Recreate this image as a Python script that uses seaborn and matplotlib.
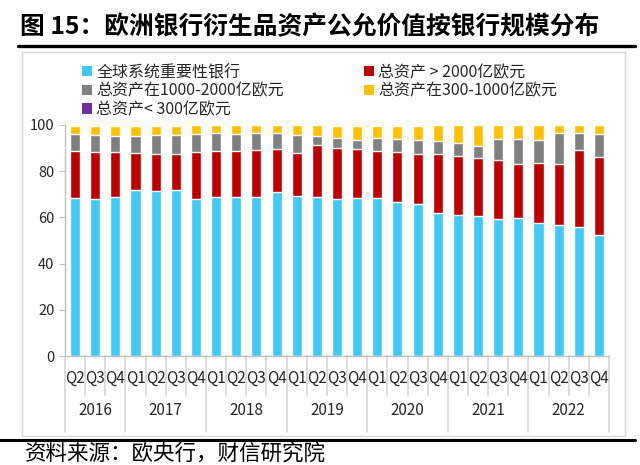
import numpy as np
import pandas as pd
import matplotlib
matplotlib.use('Agg')
import matplotlib.pyplot as plt
import seaborn as sns
from matplotlib.patches import Rectangle, Patch
from matplotlib.lines import Line2D

quarters = ['Q2', 'Q3', 'Q4'] + ['Q1', 'Q2', 'Q3', 'Q4'] * 6
years = ['2016', '2017', '2018', '2019', '2020', '2021', '2022']
year_len = [3, 4, 4, 4, 4, 4, 4]

# share of derivative assets fair value (%)
gsib = [68.5, 67.8, 68.8, 71.8, 71.6, 71.8, 68.0, 68.8, 68.7, 68.8, 71.0, 69.3, 69.0, 67.8,
        68.2, 68.2, 66.5, 65.8, 62.1, 60.9, 60.6, 59.5, 59.9, 57.6, 56.6, 55.9, 52.3]
over_2000 = [20.3, 20.6, 19.6, 16.0, 15.8, 15.6, 20.4, 20.0, 20.1, 20.4, 18.4, 18.5, 22.2, 22.4,
             21.5, 20.7, 21.6, 21.7, 25.4, 25.5, 24.9, 25.3, 23.3, 26.0, 26.7, 33.3, 33.9]
mid_1000_2000 = [7.2, 7.1, 7.0, 7.3, 8.3, 8.3, 7.6, 7.9, 7.5, 7.5, 7.3, 7.9, 4.1, 4.2,
                 3.7, 5.5, 6.0, 6.2, 5.5, 5.6, 5.6, 9.3, 10.6, 9.8, 13.4, 7.5, 9.8]
mid_300_1000 = [3.7, 4.2, 4.3, 4.6, 4.0, 4.0, 4.0, 3.3, 3.7, 3.3, 3.3, 4.3, 4.7, 5.3,
                6.3, 5.3, 5.6, 6.0, 7.0, 8.0, 8.9, 5.9, 6.2, 6.6, 3.3, 3.3, 4.0]
under_300 = [0.3, 0.3, 0.3, 0.3, 0.3, 0.3, 0, 0, 0, 0, 0, 0, 0, 0.3,
             0.3, 0.3, 0.3, 0.3, 0, 0, 0, 0, 0, 0, 0, 0, 0]

labels = ['全球系统重要性银行', '总资产 > 2000亿欧元', '总资产在1000-2000亿欧元',
          '总资产在300-1000亿欧元', '总资产< 300亿欧元']
colors = ['#3fc9f7', '#c00000', '#808080', '#ffc000', '#7030a0']
series = [gsib, over_2000, mid_1000_2000, mid_300_1000, under_300]

sns.set_style('white')
plt.rcParams['font.family'] = ['Noto Sans CJK SC', 'DejaVu Sans']

df = pd.DataFrame({lab: s for lab, s in zip(labels, series)})
df['pos'] = np.arange(len(quarters))
cum = df[labels].cumsum(axis=1)

fig = plt.figure(figsize=(6.4, 4.65), dpi=100)
ax = fig.add_axes([65 / 640, 1 - 356 / 465, 544 / 640, 231 / 465])

# stacked bars: draw cumulative totals from top layer down
for lab, col in reversed(list(zip(labels, colors))):
    sns.barplot(x=df['pos'], y=cum[lab], color=col, width=0.5, ax=ax,
                saturation=1, order=df['pos'], native_scale=True)

ax.set_xlim(-0.5, len(quarters) - 0.5)
ax.set_ylim(0, 100)
ax.set_yticks(range(0, 101, 20))
ax.tick_params(axis='y', labelsize=10.5, colors='#bfbfbf', labelcolor='#262626',
               length=4, direction='out', left=True)
ax.set_xticks([])
ax.set_xlabel('')
ax.set_ylabel('')
for s in ['top', 'right']:
    ax.spines[s].set_visible(False)
for s in ['left', 'bottom']:
    ax.spines[s].set_color('#bfbfbf')
    ax.spines[s].set_linewidth(1)

# two-level category axis
trans = ax.get_xaxis_transform()
for i, q in enumerate(quarters):
    ax.text(i, -0.095, q, transform=trans, ha='center', va='center',
            fontsize=11, color='#262626')
starts = np.cumsum([0] + year_len)
for k in range(len(starts)):
    xb = starts[k] - 0.5
    ax.add_line(Line2D([xb, xb], [0, -0.33], transform=trans, color='#d9d9d9',
                       lw=1.3, clip_on=False))
for i in range(len(quarters)):
    if i not in starts:
        ax.add_line(Line2D([i - 0.5, i - 0.5], [0, -0.17], transform=trans,
                           color='#d9d9d9', lw=1.3, clip_on=False))
for k, y in enumerate(years):
    mid = (starts[k] + starts[k + 1] - 1) / 2
    ax.text(mid, -0.238, y, transform=trans, ha='center', va='center',
            fontsize=11, color='#262626')

# legend laid out row by row
handles = [Patch(facecolor=c, edgecolor='none') for c in colors]
order = [0, 2, 4, 1, 3]
fig.legend([handles[i] for i in order], [labels[i] for i in order], ncol=2,
           loc='upper left', bbox_to_anchor=(82 / 640, 1 - 64 / 465), frameon=False,
           fontsize=11.5, handlelength=0.6, handleheight=0.6, handletextpad=0.3,
           labelspacing=0.1, columnspacing=5.0, borderpad=0, borderaxespad=0)

# title, rules and frame
fig.text(20 / 640, 1 - 27 / 465, '图 15：欧洲银行衍生品资产公允价值按银行规模分布',
         fontsize=17.8, fontweight='bold', ha='left', va='center', color='black')
fig.add_artist(Line2D([18 / 640, 635 / 640], [1 - 46 / 465] * 2, color='black', lw=2.4))
fig.add_artist(Rectangle((22 / 640, 1 - 436 / 465), 603 / 640, 384 / 465, fill=False,
                         edgecolor='#d9d9d9', lw=1))
fig.add_artist(Line2D([0, 635 / 640], [1 - 440 / 465] * 2, color='black', lw=2.2))
fig.text(25 / 640, 1 - 454 / 465, '资料来源：欧央行，财信研究院', fontsize=15.5,
         ha='left', va='center', color='black', style='italic')

fig.savefig('out.png', dpi=100)
